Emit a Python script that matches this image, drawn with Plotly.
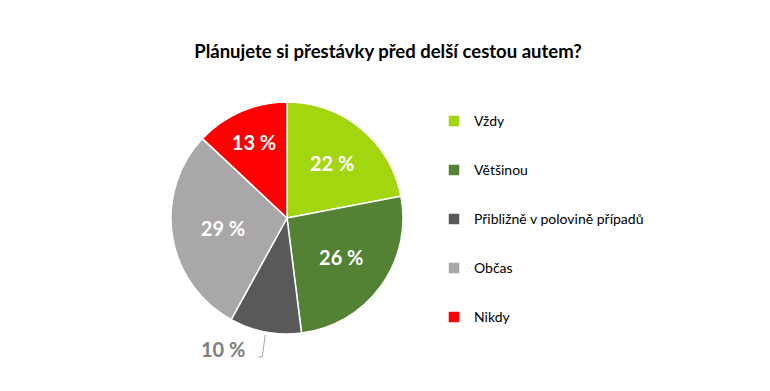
import math
import plotly.graph_objects as go

categories = ["Vždy", "Většinou", "Přibližně v polovině případů", "Občas", "Nikdy"]
values = [22, 26, 10, 29, 13]
colors = ["#A3D60F", "#548235", "#595959", "#A9A7A7", "#FF0000"]
outside_index = 2

W, H = 770, 391
OFF = 8  # default page body margin
cx, cy, R = 287 - OFF, 218 - OFF, 116
dom_x = [(cx - R) / W, (cx + R) / W]
dom_y = [1 - (cy + R) / H, 1 - (cy - R) / H]

texts = ["" if i == outside_index else f"{v} %" for i, v in enumerate(values)]
legend_labels = ["&nbsp;<br><span style='font-size:14px'>" + c + "</span><br>&nbsp;"
                 for c in categories]

fig = go.Figure(go.Pie(
    labels=legend_labels,
    values=values,
    text=texts,
    textinfo="text",
    textposition="inside",
    insidetextorientation="horizontal",
    insidetextfont=dict(color="white", size=20, family="Lato", weight="bold"),
    marker=dict(colors=colors, line=dict(color="white", width=1.5)),
    sort=False,
    direction="clockwise",
    rotation=0,
    domain=dict(x=dom_x, y=dom_y),
    hoverinfo="skip",
))

# leader label for the small slice, anchored at the slice's bisector
total = sum(values)
start = sum(values[:outside_index])
mid_frac = (start + values[outside_index] / 2) / total
ang = 2 * math.pi * mid_frac
px = cx + R * math.sin(ang)
py = cy - R * math.cos(ang)


def P(x, y):
    return f"{x / W:.5f},{1 - y / H:.5f}"


fig.add_shape(type="path", xref="paper", yref="paper",
              path=f"M{P(px, py + 3)} L{P(px - 3, py + 25)} L{P(px - 7, py + 25)}",
              line=dict(color="#A6A6A6", width=1))
fig.add_annotation(
    x=(px - 42) / W, y=1 - (py + 17) / H, xref="paper", yref="paper",
    text=f"{values[outside_index]} %", showarrow=False,
    xanchor="center", yanchor="middle",
    font=dict(color="#7F7F7F", size=20, family="Lato", weight="bold"),
)

fig.update_layout(
    width=W, height=H,
    margin=dict(l=0, r=0, t=0, b=0),
    paper_bgcolor="white",
    title=dict(text="<b>Plánujete si přestávky před delší cestou autem?</b>",
               x=(388 - OFF) / W, xanchor="center", y=1 - (52 - OFF) / H, yanchor="middle",
               font=dict(size=18.5, family="Lato", color="black")),
    legend=dict(x=(434 - OFF) / W, xanchor="left", y=1 - (219.5 - OFF) / H, yanchor="middle",
                font=dict(size=11.8, family="Lato", color="black"),
                itemwidth=30, traceorder="normal"),
    showlegend=True,
)

fig.write_html("out.html")
